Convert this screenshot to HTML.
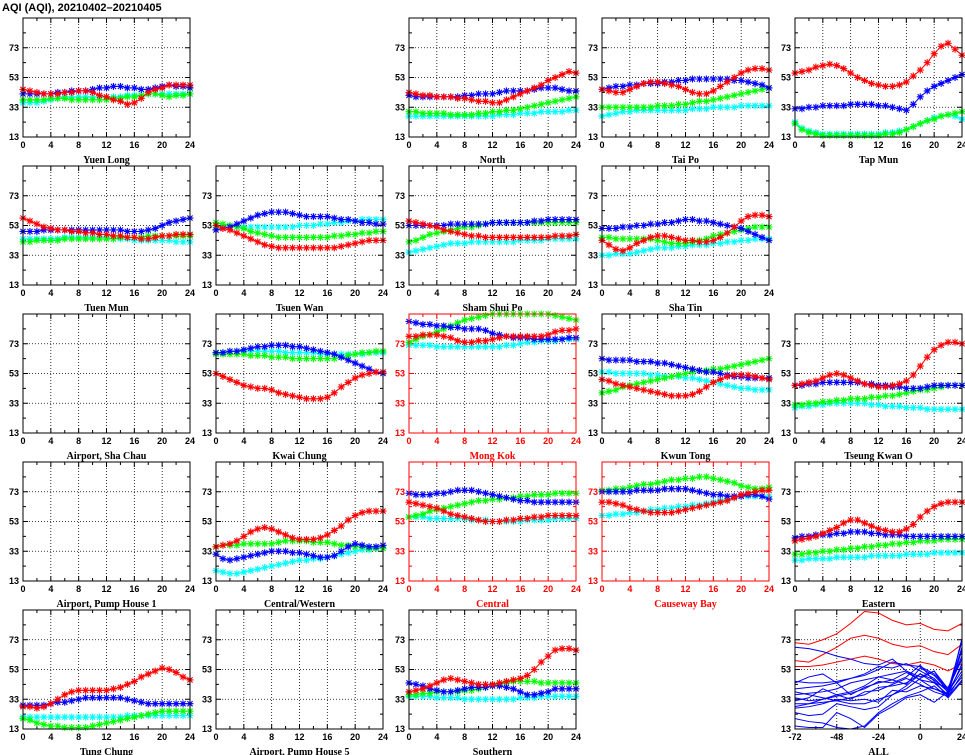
<!DOCTYPE html>
<html><head><meta charset="utf-8"><style>
html,body{margin:0;padding:0;background:#fff;}
svg{display:block;}
.tick{font-family:"Liberation Sans",sans-serif;font-size:9px;font-weight:bold;}
.name{font-family:"Liberation Serif",serif;font-size:10px;font-weight:bold;}
</style></head><body>
<svg id="chart" width="965" height="755" viewBox="0 0 965 755" xmlns="http://www.w3.org/2000/svg">
<text x="2" y="11" font-family="Liberation Sans, sans-serif" font-size="11" font-weight="bold">AQI (AQI), 20210402–20210405</text>
</svg>
<script>
// hours 0..24
const hours = [0,1,2,3,4,5,6,7,8,9,10,11,12,13,14,15,16,17,18,19,20,21,22,23,24];
const yTicks = [13,33,53,73];
const xTicks = [0,4,8,12,16,20,24];
const allXTicks = [-72,-48,-24,0,24];

const YL_red=[45,44,43,42,42,42,43,43,44,44,43,41,40,38,37,35,36,39,43,45,46,48,48,48,48];
const YL_blue=[42,42,42,42,42,43,43,44,44,44,45,46,46,47,47,46,46,45,45,46,47,48,47,47,46];
const YL_green=[38,38,38,38,39,39,39,38,38,38,38,38,38,39,39,40,40,41,42,42,41,40,41,41,42];
const YL_cyan=[36,36,36,37,38,39,40,40,40,40,40,40,40,40,40,41,41,41,42,42,42,42,42,42,42];

const NO_red=[43,42,41,41,40,40,40,39,39,38,37,37,36,36,38,40,42,44,46,48,51,53,55,57,56];
const NO_blue=[41,40,40,40,40,40,40,40,41,41,42,42,42,43,44,44,44,44,45,46,46,46,45,44,44];
const NO_green=[30,30,29,29,29,29,28,28,28,28,29,29,30,30,31,31,32,33,34,35,36,37,38,39,40];
const NO_cyan=[27,27,27,27,27,27,27,27,27,27,27,27,27,28,28,28,29,29,29,30,30,30,30,31,31];

const TP_red=[45,44,43,43,45,47,49,50,50,49,48,47,45,43,42,42,44,47,50,53,56,58,59,59,58];
const TP_blue=[45,46,47,47,48,48,49,49,49,50,50,51,51,52,52,52,52,52,52,51,51,50,49,48,46];
const TP_green=[33,33,33,33,33,33,33,33,34,34,34,35,35,36,37,37,38,39,40,41,42,43,44,45,46];
const TP_cyan=[27,28,29,30,30,31,31,31,31,31,31,31,31,32,32,32,33,33,33,33,34,34,34,34,34];

const TM_red=[56,57,58,60,61,62,61,59,56,53,51,49,48,47,47,48,50,54,58,63,69,74,76,72,68];
const TM_blue=[32,32,33,33,34,34,34,34,35,35,35,35,34,34,33,32,31,35,40,44,47,49,51,53,55];
const TM_green=[22,18,16,15,14,14,14,14,14,14,14,14,14,15,15,16,18,20,22,24,25,27,28,29,30];
const TM_cyan=[23,19,17,16,15,15,15,15,15,15,15,15,15,16,16,17,18,20,22,24,26,27,28,27,25];

const TUM_red=[58,56,54,52,51,50,50,49,49,48,48,47,47,46,46,45,45,44,44,45,46,46,47,47,47];
const TUM_blue=[49,49,49,50,50,50,50,50,50,50,50,50,50,50,50,49,49,49,50,51,53,55,56,57,58];
const TUM_green=[42,42,43,43,43,43,44,44,44,44,44,44,44,44,45,45,45,45,46,46,46,46,46,46,46];
const TUM_cyan=[44,44,44,44,44,44,45,45,45,45,45,45,45,44,44,44,43,43,43,43,43,43,42,42,42];

const TW_red=[53,51,50,48,46,44,42,40,39,38,38,38,38,38,38,38,38,38,39,40,41,42,43,43,43];
const TW_blue=[50,51,52,54,56,58,60,61,62,62,62,61,60,59,59,59,59,58,57,57,56,55,55,54,54];
const TW_green=[55,54,53,52,51,49,48,47,46,45,45,45,45,45,45,45,45,46,46,47,47,48,48,49,49];
const TW_cyan=[52,52,52,52,52,52,52,52,52,52,52,52,53,53,53,54,54,55,55,56,56,57,57,57,57];

const SSP_red=[56,55,54,53,52,50,49,48,47,46,46,45,45,45,45,45,45,45,45,45,45,46,46,46,47];
const SSP_blue=[53,53,53,53,53,53,54,54,54,54,54,54,55,55,55,55,55,55,56,56,57,57,57,57,57];
const SSP_green=[42,43,45,47,48,49,50,51,52,52,53,54,55,55,55,55,55,55,55,55,55,55,55,55,55];
const SSP_cyan=[35,36,37,38,39,40,41,41,41,42,42,42,42,42,42,42,43,43,43,43,44,44,44,44,44];

const ST_red=[43,40,37,36,38,41,43,45,46,46,45,44,43,43,42,42,43,45,48,52,56,59,60,60,59];
const ST_blue=[51,51,51,52,52,53,53,54,54,55,55,56,57,57,56,56,55,54,53,52,51,49,47,45,43];
const ST_green=[45,45,44,44,44,44,44,44,43,42,41,41,41,42,43,44,46,47,48,49,50,51,52,52,52];
const ST_cyan=[33,33,34,34,34,35,36,37,38,38,38,39,39,40,40,40,41,41,42,42,43,43,44,44,44];

const KC_red=[53,51,49,47,45,44,43,43,42,40,39,38,37,36,36,36,37,40,44,47,50,52,53,54,54];
const KC_blue=[67,67,68,68,69,70,71,71,72,72,72,71,71,70,69,68,67,66,64,62,60,58,56,54,53];
const KC_green=[66,66,66,66,66,65,65,65,64,64,64,63,63,63,63,63,63,63,64,65,66,67,67,68,68];
const KC_cyan=[67,67,68,68,68,68,68,68,68,68,67,67,67,67,67,66,66,66,66,66,66,66,67,67,67];

const MK_red=[78,78,79,79,79,78,77,75,74,74,75,75,76,77,78,78,78,78,78,78,79,81,82,82,83];
const MK_blue=[88,87,86,86,85,85,84,84,83,83,83,82,80,79,78,77,77,77,76,76,76,76,76,77,77];
const MK_green=[74,76,78,79,81,83,85,87,89,90,91,92,93,93,93,93,93,93,93,93,93,92,91,90,89];
const MK_cyan=[72,72,72,72,71,71,71,71,71,71,71,71,71,71,72,72,73,74,74,75,75,75,76,76,76];

const KT_red=[49,48,46,45,44,43,42,41,40,39,38,38,38,39,41,44,47,49,51,52,52,52,51,50,49];
const KT_blue=[63,62,62,62,62,61,61,61,60,60,59,58,57,56,55,54,54,53,52,51,51,50,50,50,50];
const KT_green=[40,41,42,44,45,46,47,48,49,50,51,52,53,54,55,55,56,56,57,58,59,60,61,62,63];
const KT_cyan=[54,54,53,53,53,53,53,52,52,51,51,51,50,50,49,48,47,46,45,44,43,43,42,42,42];

const TKO_red=[45,46,47,48,50,52,53,52,50,48,46,45,44,44,45,46,48,52,58,64,69,72,74,74,73];
const TKO_blue=[45,45,46,46,47,47,47,47,47,47,46,46,45,45,44,44,43,43,43,44,45,45,45,45,45];
const TKO_green=[32,32,33,33,34,34,35,35,36,36,36,37,37,38,38,39,40,41,42,42,43,44,45,45,45];
const TKO_cyan=[30,31,31,32,32,33,33,33,33,33,33,32,32,31,31,31,30,30,30,29,29,29,29,29,29];

const CW_red=[36,37,38,40,43,46,48,49,48,46,44,42,41,41,41,42,44,47,50,54,57,59,60,60,60];
const CW_blue=[31,28,27,28,29,30,31,32,33,33,33,32,32,31,30,29,29,30,33,36,38,37,36,36,37];
const CW_green=[36,37,37,37,38,38,38,38,38,39,40,40,40,40,39,39,39,38,37,37,36,36,35,35,35];
const CW_cyan=[20,19,18,18,19,20,21,22,23,24,25,26,27,27,28,28,29,30,31,32,33,34,34,35,35];

const CE_red=[66,65,64,63,62,60,58,57,56,55,54,53,53,53,54,54,55,55,56,56,57,57,57,57,57];
const CE_blue=[72,71,71,71,72,72,73,74,74,74,73,72,71,70,69,68,67,67,66,66,66,66,66,66,66];
const CE_green=[56,57,58,60,61,62,63,64,65,66,67,67,68,68,69,69,70,70,71,71,71,72,72,72,72];
const CE_cyan=[56,56,56,55,55,55,55,55,55,54,54,54,53,53,53,53,53,54,54,54,54,55,55,55,55];

const CB_red=[66,66,65,64,62,61,60,59,59,59,59,60,61,62,63,64,65,66,67,69,71,72,73,74,74];
const CB_blue=[73,73,73,73,73,74,74,74,74,75,75,75,75,74,73,72,71,71,70,70,70,71,71,70,68];
const CB_green=[74,74,75,75,76,77,78,78,79,80,81,81,82,82,83,83,82,81,80,79,77,76,75,75,76];
const CB_cyan=[57,57,58,58,59,59,60,61,61,62,62,63,63,64,64,65,66,67,68,69,70,70,70,70,70];

const EA_red=[40,41,42,43,45,47,49,52,54,54,52,50,48,47,46,46,48,51,56,60,63,65,66,66,66];
const EA_blue=[42,43,43,44,44,44,45,45,46,46,46,45,45,44,44,44,43,43,43,43,43,43,43,43,43];
const EA_green=[31,31,32,32,33,33,34,34,35,35,36,36,37,37,38,38,39,39,40,40,40,41,41,41,41];
const EA_cyan=[27,27,28,28,28,28,29,29,29,29,29,30,30,30,30,30,31,31,31,31,32,32,32,32,32];

const TC_red=[28,28,27,28,30,33,36,38,39,39,39,39,39,40,41,43,45,48,50,52,54,53,51,48,46];
const TC_blue=[29,29,29,29,30,31,31,32,33,34,34,34,34,34,34,33,32,31,30,30,30,30,30,30,30];
const TC_green=[20,19,17,16,15,15,14,14,14,14,15,16,17,18,19,20,21,22,23,24,25,25,25,25,25];
const TC_cyan=[21,21,21,21,21,21,21,21,21,21,21,21,21,21,21,22,22,22,22,22,22,22,22,22,22];

const SO_red=[38,39,40,42,44,46,47,46,45,44,43,43,43,44,45,46,47,49,53,58,62,66,67,67,66];
const SO_blue=[44,43,42,40,39,38,38,39,40,41,41,41,42,42,41,40,38,36,36,37,38,40,40,40,40];
const SO_green=[36,36,37,37,38,38,38,38,39,39,40,41,42,43,44,45,45,45,45,44,44,44,44,44,44];
const SO_cyan=[35,35,35,35,34,34,34,34,33,33,33,33,33,33,33,33,34,34,34,35,35,35,35,35,35];

// ALL panel: hours -72..24 step 8
const allHours=[-72,-64,-56,-48,-40,-32,-24,-16,-8,0,8,16,24];
const allRed1=[71,70,73,77,84,92,91,86,83,84,80,79,84];
const allRed2=[59,58,63,68,74,76,74,70,68,69,65,63,70];
const allRed3=[55,55,56,58,60,62,60,57,56,58,56,52,57];
const allBlue1=[68,67,65,62,60,57,56,60,52,46,44,36,74];
const allBlue2=[45,44,44,45,47,49,53,58,56,55,50,40,60];
const allBlue3=[40,41,42,44,47,50,55,54,57,52,47,38,55];
const allBlue4=[36,37,38,40,44,46,48,50,52,48,52,37,66];
const allBlue5=[34,32,33,35,37,40,45,44,48,56,45,35,50];
const allBlue6=[30,30,31,32,34,36,41,42,44,50,46,38,68];
const allBlue7=[27,28,30,33,32,33,31,39,38,42,40,37,48];
const allBlue8=[24,22,23,30,28,26,28,36,40,47,52,40,62];
const allBlue9=[20,18,17,14,13,15,24,30,35,38,42,34,45];
const allBlue10=[15,14,14,24,20,14,23,28,34,36,31,38,52];
const allBlue11=[44,48,50,44,36,41,44,46,51,46,40,36,57];
const allBlue12=[28,30,33,36,38,42,48,46,43,54,49,39,72];
const allBlue13=[38,36,34,32,30,30,33,36,42,50,44,41,60];
const allBlue14=[32,34,40,36,33,38,39,43,47,43,38,35,46];

const svg=document.getElementById('chart');
const NS='http://www.w3.org/2000/svg';
function mk(tag,attrs,parent){const e=document.createElementNS(NS,tag);for(const k in attrs)e.setAttribute(k,attrs[k]);(parent||svg).appendChild(e);return e;}

const colX=[23,216,409,602,795];
const rowY=[18,166,314,462,610];
const PW=167, PH=119, YMIN=13, YMAX=93;

const panels=[
 {name:'Yuen Long',c:0,r:0,d:[YL_cyan,YL_green,YL_blue,YL_red]},
 {name:'North',c:2,r:0,d:[NO_cyan,NO_green,NO_blue,NO_red]},
 {name:'Tai Po',c:3,r:0,d:[TP_cyan,TP_green,TP_blue,TP_red]},
 {name:'Tap Mun',c:4,r:0,d:[TM_cyan,TM_green,TM_blue,TM_red]},
 {name:'Tuen Mun',c:0,r:1,d:[TUM_cyan,TUM_green,TUM_blue,TUM_red]},
 {name:'Tsuen Wan',c:1,r:1,d:[TW_cyan,TW_green,TW_blue,TW_red]},
 {name:'Sham Shui Po',c:2,r:1,d:[SSP_cyan,SSP_green,SSP_blue,SSP_red]},
 {name:'Sha Tin',c:3,r:1,d:[ST_cyan,ST_green,ST_blue,ST_red]},
 {name:'Airport, Sha Chau',c:0,r:2,d:null},
 {name:'Kwai Chung',c:1,r:2,d:[KC_cyan,KC_green,KC_blue,KC_red]},
 {name:'Mong Kok',c:2,r:2,d:[MK_cyan,MK_green,MK_blue,MK_red],hl:true},
 {name:'Kwun Tong',c:3,r:2,d:[KT_cyan,KT_green,KT_blue,KT_red]},
 {name:'Tseung Kwan O',c:4,r:2,d:[TKO_cyan,TKO_green,TKO_blue,TKO_red]},
 {name:'Airport, Pump House 1',c:0,r:3,d:null},
 {name:'Central/Western',c:1,r:3,d:[CW_cyan,CW_green,CW_blue,CW_red]},
 {name:'Central',c:2,r:3,d:[CE_cyan,CE_green,CE_blue,CE_red],hl:true},
 {name:'Causeway Bay',c:3,r:3,d:[CB_cyan,CB_green,CB_blue,CB_red],hl:true},
 {name:'Eastern',c:4,r:3,d:[EA_cyan,EA_green,EA_blue,EA_red]},
 {name:'Tung Chung',c:0,r:4,d:[TC_cyan,TC_green,TC_blue,TC_red]},
 {name:'Airport, Pump House 5',c:1,r:4,d:null},
 {name:'Southern',c:2,r:4,d:[SO_cyan,SO_green,SO_blue,SO_red]},
];
const seriesColors=['#00ffff','#00ff00','#0000ff','#ff0000'];
const seriesNames=['cyan','green','blue','red'];

function slug(s){return s.toLowerCase().replace(/[^a-z0-9]+/g,'-').replace(/-$/,'');}

function axes(g,x0,y0,xmin,xmax,xt,xminor,col){
  const sx=v=>x0+(v-xmin)/(xmax-xmin)*PW;
  const sy=v=>y0+PH-(v-YMIN)/(YMAX-YMIN)*PH;
  // grid
  xt.forEach(v=>{if(v>xmin&&v<xmax){const l=mk('line',{x1:sx(v),x2:sx(v),y1:y0,y2:y0+PH,stroke:'#000','stroke-width':0.8,'stroke-dasharray':'1,2'},g);
    
    }});
  yTicks.forEach(v=>{if(v>YMIN){const l=mk('line',{x1:x0,x2:x0+PW,y1:sy(v),y2:sy(v),stroke:'#000','stroke-width':0.8,'stroke-dasharray':'1,2'},g);
    
    }});
  // ticks
  let p='';
  xt.forEach(v=>{const x=sx(v);p+=`M${x},${y0+PH}v-5M${x},${y0}v5`;});
  xminor.forEach(v=>{const x=sx(v);p+=`M${x},${y0+PH}v-3M${x},${y0}v3`;});
  [13,23,33,43,53,63,73,83,93].forEach(v=>{const y=sy(v);const L=(v-13)%20===0?5:3;p+=`M${x0},${y}h${L}M${x0+PW},${y}h-${L}`;});
  mk('path',{d:p,stroke:col,'stroke-width':1,fill:'none'},g);
  xt.forEach(v=>{const t=mk('text',{x:sx(v),y:y0+PH+11,'text-anchor':'middle',class:'tick',fill:col},g);t.textContent=v;
    
    });
  yTicks.forEach(v=>{const t=mk('text',{x:x0-4,y:sy(v)+3,'text-anchor':'end',class:'tick',fill:col},g);t.textContent=v;
    
    });
  return {sx,sy};
}

panels.forEach(p=>{
  const x0=colX[p.c], y0=rowY[p.r];
  const col=p.hl?'#ff0000':'#000000';
  const g=mk('g',{});
  
  
  const {sx,sy}=axes(g,x0,y0,0,24,xTicks,[2,6,10,14,18,22],col);
  if(p.d){
    p.d.forEach((vals,si)=>{
      const c=seriesColors[si];
      const pts=vals.map((v,i)=>[sx(hours[i]),sy(v)]);
      const ln=mk('polyline',{points:pts.map(q=>q.join(',')).join(' '),fill:'none',stroke:c,'stroke-width':1},g);
      
      
      let d='';
      pts.forEach(([x,y])=>{d+=`M${x-3.5},${y}h7M${x},${y-3.5}v7M${x-2.6},${y-2.6}l5.2,5.2M${x-2.6},${y+2.6}l5.2,-5.2`;});
      const mkr=mk('path',{d:d,stroke:c,'stroke-width':1.1,fill:'none'},g);
      
      
    });
  }
  const fr=mk('rect',{x:x0,y:y0,width:PW,height:PH,fill:'none',stroke:col,'stroke-width':1},g);
  
  
  const t=mk('text',{x:x0+PW/2,y:y0+PH+26,'text-anchor':'middle',class:'name',fill:col},g);
  t.textContent=p.name;
  
  
});

// ALL panel
(function(){
  const x0=colX[4], y0=rowY[4];
  const g=mk('g',{});
  
  
  const {sx,sy}=axes(g,x0,y0,-72,24,allXTicks,[-60,-36,-12,12],'#000');
  const cp=mk('clipPath',{id:'allclip'},g);
  mk('rect',{x:x0,y:y0,width:PW,height:PH},cp);
  const lines=[[allRed1,'#ff0000'],[allRed2,'#ff0000'],[allRed3,'#ff0000'],
    [allBlue1,'#0000ff'],[allBlue2,'#0000ff'],[allBlue3,'#0000ff'],[allBlue4,'#0000ff'],[allBlue5,'#0000ff'],
    [allBlue6,'#0000ff'],[allBlue7,'#0000ff'],[allBlue8,'#0000ff'],[allBlue9,'#0000ff'],[allBlue10,'#0000ff'],
    [allBlue11,'#0000ff'],[allBlue12,'#0000ff'],[allBlue13,'#0000ff'],[allBlue14,'#0000ff']];
  lines.forEach(([vals,c])=>{
    const ln=mk('polyline',{points:vals.map((v,i)=>sx(allHours[i])+','+sy(v)).join(' '),fill:'none',stroke:c,'stroke-width':1,'clip-path':'url(#allclip)'},g);
    
    
  });
  const fr=mk('rect',{x:x0,y:y0,width:PW,height:PH,fill:'none',stroke:'#000','stroke-width':1},g);
  
  
  const t=mk('text',{x:x0+PW/2,y:y0+PH+26,'text-anchor':'middle',class:'name'},g);
  t.textContent='ALL';
  
  
})();
</script>
</body></html>
